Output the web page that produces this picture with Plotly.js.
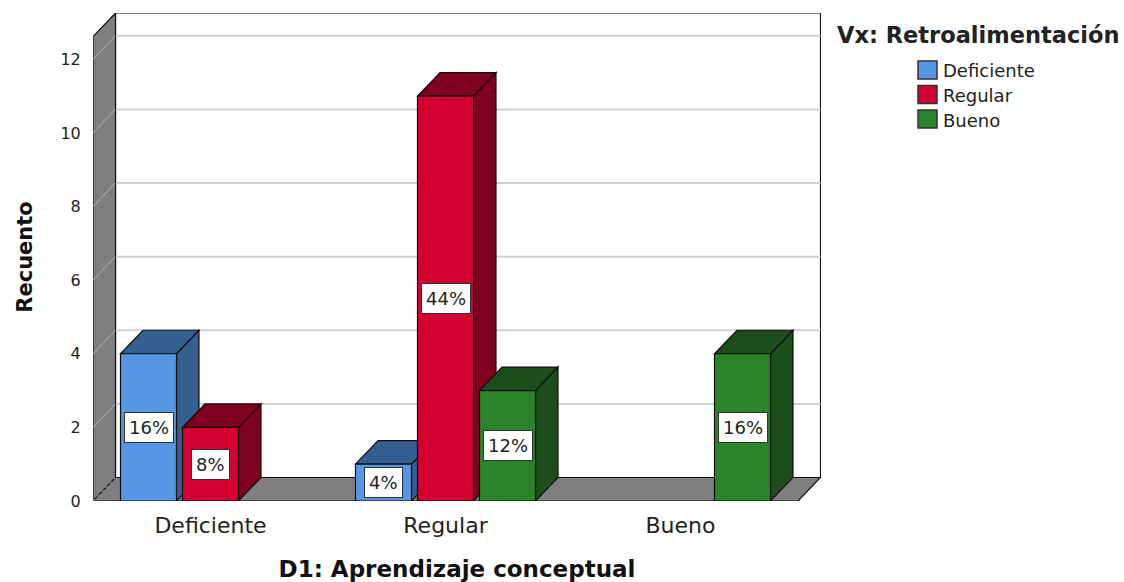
<!DOCTYPE html>
<html>
<head>
<meta charset="utf-8">
<script src="https://cdn.plot.ly/plotly-3.0.1.min.js"></script>
<style>html,body{margin:0;padding:0;background:#fff;}#chart{width:1124px;height:582px;}</style>
</head>
<body>
<div id="chart"></div>
<script>
// ---- data ----
const categories = ['Deficiente', 'Regular', 'Bueno'];
const seriesNames = ['Deficiente', 'Regular', 'Bueno'];
const serieDeficiente = [4, 1, 0];
const serieRegular = [2, 11, 0];
const serieBueno = [0, 3, 4];
const yTickVals = [0, 2, 4, 6, 8, 10, 12];
const xAxisTitle = 'D1: Aprendizaje conceptual';
const yAxisTitle = 'Recuento';
const legendTitle = 'Vx: Retroalimentación';

// ---- style ----
const frontColors = ['#5596E6', '#D50032', '#2A852A'];
const darkColors = ['#355F91', '#7F0020', '#1B4E1B'];
const FONT = 'DejaVu Sans, Liberation Sans, Arial, sans-serif';
const W = 1124, H = 582;
const M = {l: 93, r: 303, t: 13, b: 81};
const plotW = W - M.l - M.r, plotH = H - M.t - M.b;
const frontW = 705;                 // front plane width in px
const ppx = frontW / categories.length;
const ppy = 36.81;
const depthPx = {x: 22.5, y: 23.5};
const dX = depthPx.x / ppx, dY = depthPx.y / ppy;
const xMin = -0.5, xFront = categories.length - 0.5;
const xMax = xMin + plotW / ppx;
const yMax = plotH / ppy;
const yFrontTop = yMax - dY;
const barW = 56 / ppx, barPitch = 62 / ppx;

const series = [serieDeficiente, serieRegular, serieBueno];
const total = series.reduce((s, arr) => s + arr.reduce((a, b) => a + b, 0), 0);
const xIdx = categories.map((c, i) => i);

const shapes = [];
const poly = pts => 'M' + pts.map(p => p[0] + ',' + p[1]).join(' L') + ' Z';
const lineBlack = {color: '#111', width: 1.2};

// back wall
shapes.push({type: 'path', layer: 'below', xref: 'x', yref: 'y',
  path: poly([[xMin + dX, dY], [xMin + dX, yFrontTop + dY], [xFront + dX, yFrontTop + dY], [xFront + dX, dY]]),
  fillcolor: '#ffffff', line: lineBlack});
// gridlines on back wall
yTickVals.filter(v => v > 0).forEach(v => {
  shapes.push({type: 'line', layer: 'below', xref: 'x', yref: 'y',
    x0: xMin + dX, x1: xFront + dX, y0: v + dY, y1: v + dY,
    line: {color: '#d0d0d0', width: 2}});
});
// left wall
shapes.push({type: 'path', layer: 'below', xref: 'x', yref: 'y',
  path: poly([[xMin, 0], [xMin, yFrontTop], [xMin + dX, yFrontTop + dY], [xMin + dX, dY]]),
  fillcolor: '#7f7f7f', line: lineBlack});
yTickVals.filter(v => v > 0).forEach(v => {
  shapes.push({type: 'line', layer: 'below', xref: 'x', yref: 'y',
    x0: xMin, x1: xMin + dX, y0: v, y1: v + dY,
    line: {color: '#b0b0b0', width: 1}});
});
// floor
shapes.push({type: 'path', layer: 'below', xref: 'x', yref: 'y',
  path: poly([[xMin, 0], [xFront, 0], [xFront + dX, dY], [xMin + dX, dY]]),
  fillcolor: '#7f7f7f', line: lineBlack});
shapes.push({type: 'line', layer: 'below', xref: 'x', yref: 'y',
  x0: xMin, x1: xMin + dX, y0: 0, y1: dY, line: {color: '#b0b0b0', width: 1, dash: 'dot'}});

// bar side and top faces
const traces = [];
const annotations = [];
series.forEach((vals, k) => {
  const off = (k - 1) * barPitch - barW / 2;
  vals.forEach((v, i) => {
    if (!v) return;
    const x0 = i + off, x1 = x0 + barW;
    shapes.push({type: 'path', layer: 'below', xref: 'x', yref: 'y',
      path: poly([[x1, 0], [x1, v], [x1 + dX, v + dY], [x1 + dX, dY]]),
      fillcolor: darkColors[k], line: lineBlack});
    shapes.push({type: 'path', layer: 'below', xref: 'x', yref: 'y',
      path: poly([[x0, v], [x1, v], [x1 + dX, v + dY], [x0 + dX, v + dY]]),
      fillcolor: darkColors[k], line: lineBlack});
    annotations.push({xref: 'x', yref: 'y', x: x0 + barW / 2, y: v / 2,
      text: Math.round(v / total * 100) + '%', showarrow: false,
      font: {family: FONT, size: 18, color: '#222'},
      bgcolor: '#ffffff', bordercolor: '#333', borderwidth: 1, borderpad: 4});
  });
  traces.push({type: 'bar', name: seriesNames[k], x: xIdx,
    y: vals.map(v => v === 0 ? null : v),
    offset: off, width: barW,
    marker: {color: frontColors[k], line: {color: '#111', width: 1.2}},
    hoverinfo: 'x+y+name', showlegend: false});
});

// legend (manual, square swatches)
const xp = px => (px - M.l) / plotW;
const yp = py => (H - M.b - py) / plotH;
annotations.push({xref: 'paper', yref: 'paper', x: xp(835), y: yp(35), xanchor: 'left', yanchor: 'middle',
  text: '<b>' + legendTitle + '</b>', showarrow: false, font: {family: FONT, size: 22.5, color: '#222'}});
seriesNames.forEach((name, k) => {
  const cy = 70 + k * 24.5;
  shapes.push({type: 'rect', xref: 'paper', yref: 'paper',
    x0: xp(918), x1: xp(937), y0: yp(cy - 9), y1: yp(cy + 9),
    fillcolor: frontColors[k], line: {color: '#333', width: 1.5}});
  annotations.push({xref: 'paper', yref: 'paper', x: xp(941), y: yp(cy + 1), xanchor: 'left', yanchor: 'middle',
    text: name, showarrow: false, font: {family: FONT, size: 18, color: '#222'}});
});

const layout = {
  width: W, height: H,
  margin: M,
  paper_bgcolor: '#ffffff', plot_bgcolor: 'rgba(0,0,0,0)',
  barmode: 'overlay',
  showlegend: false,
  xaxis: {range: [xMin, xMax], tickvals: xIdx, ticktext: categories,
    showgrid: false, zeroline: false, showline: false,
    ticks: 'outside', ticklen: 5, tickcolor: 'rgba(0,0,0,0)',
    tickfont: {family: FONT, size: 22, color: '#222'},
    title: {text: '<b>' + xAxisTitle + '</b>', font: {family: FONT, size: 23, color: '#111'}, standoff: 25},
    fixedrange: true},
  yaxis: {range: [0, yMax], tickvals: yTickVals, ticktext: yTickVals.map(String),
    showgrid: false, zeroline: false, showline: false,
    ticks: 'outside', ticklen: 8, tickcolor: 'rgba(0,0,0,0)',
    tickfont: {family: FONT, size: 16, color: '#222'},
    title: {text: '<b>' + yAxisTitle + '</b>', font: {family: FONT, size: 21, color: '#111'}, standoff: 22},
    fixedrange: true},
  shapes: shapes,
  annotations: annotations
};

Plotly.newPlot('chart', traces, layout, {displayModeBar: false, staticPlot: true});
</script>
</body>
</html>
